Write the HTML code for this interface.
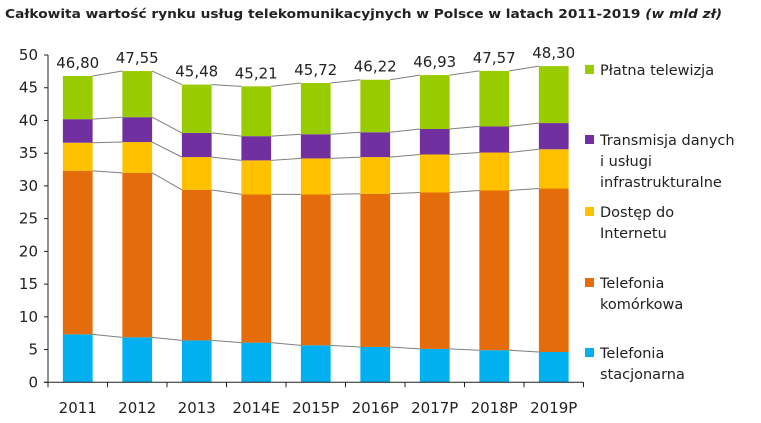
<!DOCTYPE html>
<html><head><meta charset="utf-8"><style>
html,body{margin:0;padding:0;background:#fff}
svg{display:block;font-family:"DejaVu Sans","Liberation Sans",sans-serif}
</style></head><body>
<svg id="chart" width="761" height="423" viewBox="0 0 761 423" xmlns="http://www.w3.org/2000/svg">
<text x="5" y="18" font-size="12" font-weight="bold" fill="#222" textLength="717" lengthAdjust="spacingAndGlyphs">Całkowita wartość rynku usług telekomunikacyjnych w Polsce w latach 2011-2019 <tspan font-style="italic">(w mld zł)</tspan></text>
<g id="plot"></g>
</svg>
<script>
const categories = ["2011","2012","2013","2014E","2015P","2016P","2017P","2018P","2019P"];
const totals = ["46,80","47,55","45,48","45,21","45,72","46,22","46,93","47,57","48,30"];
const seriesNames = ["Telefonia stacjonarna","Telefonia komórkowa","Dostęp do Internetu","Transmisja danych i usługi infrastrukturalne","Płatna telewizja"];
const stacjonarna = [7.33,6.87,6.40,6.06,5.65,5.40,5.10,4.90,4.63];
const komorkowa = [24.97,25.13,23.00,22.64,23.05,23.40,23.90,24.40,24.97];
const internet = [4.30,4.70,5.00,5.20,5.50,5.60,5.80,5.80,6.00];
const transmisja = [3.60,3.80,3.70,3.70,3.70,3.80,3.90,4.00,4.00];
const telewizja = [6.60,7.05,7.38,7.61,7.82,8.02,8.23,8.47,8.70];
const yTicks = [0,5,10,15,20,25,30,35,40,45,50];

const series = [stacjonarna,komorkowa,internet,transmisja,telewizja];
const colors = ["#00B0F0","#E46C0A","#FFC000","#7030A0","#99CC00"];
const NS="http://www.w3.org/2000/svg";
const g=document.getElementById('plot');
const x0=48, x1=583.5, y0=382.3, yTop=55, yMax=50;
const bw=(x1-x0)/categories.length;
const Y=v=>y0-(v/yMax)*(y0-yTop);
const Xc=i=>x0+bw*(i+0.5);
const barW=bw*0.5;
function el(t,a){const e=document.createElementNS(NS,t);for(const k in a)e.setAttribute(k,a[k]);g.appendChild(e);return e;}

// cumulative
const cum=categories.map((c,i)=>{let s=0;return series.map(se=>{s+=se[i];return s;});});

// bars
categories.forEach((c,i)=>{
  let base=0;
  series.forEach((se,k)=>{
    const r=el('rect',{x:Xc(i)-barW/2,y:Y(base+se[i]),width:barW,height:Y(base)-Y(base+se[i]),fill:colors[k]});
    
    
    base+=se[i];
  });
});
// connector lines
for(let k=0;k<series.length;k++){
  for(let i=0;i<categories.length-1;i++){
    const l=el('line',{x1:Xc(i)+barW/2,y1:Y(cum[i][k]),x2:Xc(i+1)-barW/2,y2:Y(cum[i+1][k]),stroke:"#7f7f7f","stroke-width":1});
    
    
  }
}
// axes
let a=el('line',{x1:x0,y1:yTop,x2:x0,y2:y0,stroke:"#222","stroke-width":1});


a=el('line',{x1:x0-4,y1:y0,x2:x1,y2:y0,stroke:"#222","stroke-width":1});


yTicks.forEach(v=>{
  const t=el('line',{x1:x0-4,y1:Y(v),x2:x0,y2:Y(v),stroke:"#222"});
  
  
  const tx=el('text',{x:x0-10,y:Y(v)+5,"text-anchor":"end","font-size":15,fill:"#222"});
  tx.textContent=v;
  
  
});
for(let i=0;i<=categories.length;i++){
  const t=el('line',{x1:x0+bw*i,y1:y0,x2:x0+bw*i,y2:y0+5,stroke:"#222"});
  
  
}
categories.forEach((c,i)=>{
  const tx=el('text',{x:Xc(i),y:413,"text-anchor":"middle","font-size":15,fill:"#222"});
  tx.textContent=c;
  
  
  const tv=el('text',{x:Xc(i),y:Y(cum[i][4])-8,"text-anchor":"middle","font-size":15,fill:"#222"});
  tv.textContent=totals[i];
  
  
});
// legend
const legend=[
  {k:4,lines:["Płatna telewizja"],y:75},
  {k:3,lines:["Transmisja danych","i usługi","infrastrukturalne"],y:145},
  {k:2,lines:["Dostęp do","Internetu"],y:217},
  {k:1,lines:["Telefonia","komórkowa"],y:288},
  {k:0,lines:["Telefonia","stacjonarna"],y:358}
];
legend.forEach(L=>{
  const s=el('rect',{x:585,y:L.y-10,width:9,height:9,fill:colors[L.k]});
  
  
  L.lines.forEach((ln,j)=>{
    const t=el('text',{x:600,y:L.y+j*21,"font-size":14.5,fill:"#222"});
    t.textContent=ln;
    
    
  });
});
</script>
</body></html>
